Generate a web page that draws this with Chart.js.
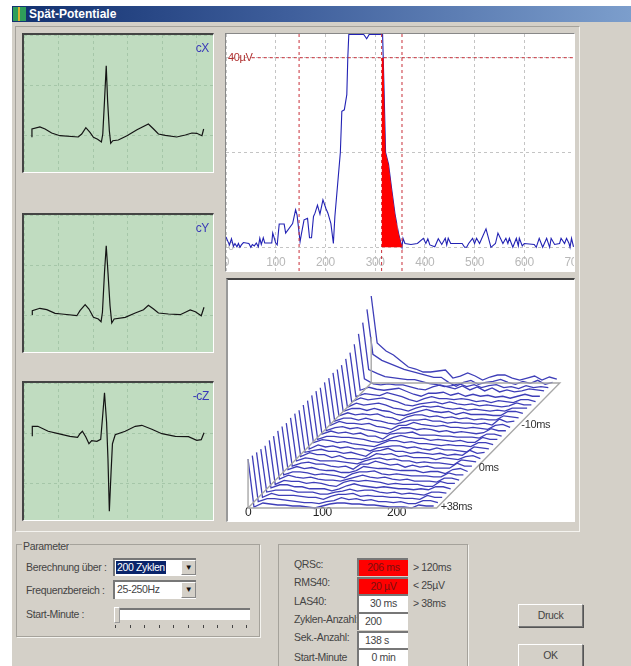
<!DOCTYPE html>
<html>
<head>
<meta charset="utf-8">
<title>Spät-Potentiale</title>
<script src="https://cdn.jsdelivr.net/npm/chart.js@4/dist/chart.umd.min.js"></script>
<style>
html, body { margin: 0; padding: 0; background: #fff; }
body { width: 631px; height: 666px; position: relative; overflow: hidden; font: 10.5px "Liberation Sans", Arial, sans-serif; letter-spacing: -.35px; color: #444; }
div, span, canvas { position: absolute; box-sizing: border-box; }
canvas { display: block; }
#win { left: 12px; top: 22px; width: 619px; height: 644px; background: #d4d0c8; }
#titlebar { left: 12px; top: 6px; width: 619px; height: 16px; background: linear-gradient(90deg, #12306f, #3f5f9c 45%, #7c9ecc); color: #fff; font: bold 12px "Liberation Sans", Arial, sans-serif; letter-spacing: 0; line-height: 16px; padding-left: 17px; }
#icon { left: 1px; top: 1px; width: 13px; height: 14px; background: linear-gradient(90deg, #2f9e5a 40%, #d8b030 40%, #d8b030 55%, #2f9e5a 55%); }
#panel { left: 15px; top: 26px; width: 565px; height: 506px; border: 1px solid #a5a29b; border-right-color: #f4f3ef; border-bottom-color: #f4f3ef; }
.plot { border-top: 2px solid #444; border-left: 2px solid #444; border-right: 1px solid #fff; border-bottom: 1px solid #fff; }
.paper { background: #c0dcc0; }
.sheet { background: #fff; }
.plot canvas { left: 0; top: 0; }
.group { border: 1px solid #a5a29b; box-shadow: 1px 1px 0 #f4f3ef; }
.txt { white-space: nowrap; line-height: 14px; }
.legend { background: #d4d0c8; padding: 0 1px; }
.field { background: #fff; border-top: 2px solid #777; border-left: 2px solid #777; line-height: 14px; white-space: nowrap; padding-left: 2px; }
.red { background: #ff0000; color: #7a1010; text-align: center; padding: 0; }
.mid { text-align: center; padding: 0; }
.arrow { width: 15px; background: #d4d0c8; border: 1px solid #888; border-top-color: #fff; border-left-color: #fff; color: #111; font-size: 8px; line-height: 14px; text-align: center; }
.sel { background: #0a246a; color: #fff; left: 1px; top: 1px; height: 13px; line-height: 13px; padding: 0 1px; }
.btn { background: #d4d0c8; border: 1px solid #777; border-top-color: #fff; border-left-color: #fff; box-shadow: 1px 1px 0 #555; text-align: center; line-height: 21px; }
.tick { width: 1px; height: 3px; background: #444; top: 625px; }
</style>
</head>
<body>
<div id="win"></div>
<div id="titlebar"><div id="icon"></div>Spät-Potentiale</div>
<div id="panel"></div>

<div class="plot paper" style="left:22px;top:33px;width:192px;height:140px"><canvas id="ecgX" width="189" height="137"></canvas></div>
<div class="plot paper" style="left:22px;top:213px;width:192px;height:140px"><canvas id="ecgY" width="189" height="137"></canvas></div>
<div class="plot paper" style="left:22px;top:381px;width:192px;height:140px"><canvas id="ecgZ" width="189" height="137"></canvas></div>
<div class="plot sheet" style="left:225px;top:33px;width:350px;height:239px;border-width:1px;border-top-color:#888;border-left-color:#888"><canvas id="rms" width="348" height="237"></canvas></div>
<div class="plot sheet" style="left:226px;top:278px;width:349px;height:244px;border-top-color:#444;border-left-color:#999"><canvas id="waterfall" width="346" height="241"></canvas></div>

<div class="group" style="left:16px;top:544px;width:244px;height:93px"></div>
<div class="txt legend" style="left:22px;top:539px">Parameter</div>
<div class="txt" style="left:26px;top:560px">Berechnung über :</div>
<div class="txt" style="left:26px;top:583px">Frequenzbereich :</div>
<div class="txt" style="left:26px;top:607px">Start-Minute :</div>
<div class="field" style="left:113px;top:558px;width:83px;height:18px;padding:0"><span class="sel">200 Zyklen</span></div>
<div class="arrow" style="left:181px;top:560px;height:15px">▼</div>
<div class="field" style="left:113px;top:580px;width:83px;height:19px">25-250Hz</div>
<div class="arrow" style="left:181px;top:582px;height:16px">▼</div>
<div class="field" style="left:118px;top:608px;width:132px;height:12px;padding:0"></div>
<div style="left:114px;top:607px;width:6px;height:16px;background:#d4d0c8;border:1px solid #999;border-top-color:#fff;border-left-color:#fff"></div>
<div id="sliderTicks"></div>

<div class="group" style="left:278px;top:544px;width:190px;height:130px"></div>
<div class="txt" style="left:294px;top:557px">QRSc:</div>
<div class="txt" style="left:294px;top:575px">RMS40:</div>
<div class="txt" style="left:294px;top:594px">LAS40:</div>
<div class="txt" style="left:294px;top:612px">Zyklen-Anzahl:</div>
<div class="txt" style="left:294px;top:630px">Sek.-Anzahl:</div>
<div class="txt" style="left:294px;top:650px">Start-Minute</div>
<div class="field red" style="left:357px;top:558px;width:51px;height:18px">206 ms</div>
<div class="field red" style="left:357px;top:577px;width:51px;height:17px">20 µV</div>
<div class="field mid" style="left:357px;top:594px;width:51px;height:18px">30 ms</div>
<div class="field" style="left:357px;top:612px;width:51px;height:18px;padding-left:6px">200</div>
<div class="field" style="left:357px;top:631px;width:51px;height:17px;padding-left:6px">138 s</div>
<div class="field mid" style="left:357px;top:648px;width:51px;height:18px">0 min</div>
<div class="txt" style="left:413px;top:560px">&gt; 120ms</div>
<div class="txt" style="left:413px;top:578px">&lt; 25µV</div>
<div class="txt" style="left:413px;top:596px">&gt; 38ms</div>
<div class="btn" style="left:518px;top:604px;width:65px;height:23px">Druck</div>
<div class="btn" style="left:518px;top:644px;width:65px;height:23px">OK</div>

<script>
// averaged ECG leads, time in ms, amplitude in plot units
const cxTimes = [23,23,46,61,80,104,157,167,179,191,201,213,224,228,233,238,242,247,251,257,273,298,327,360,375,389,409,442,467,486,500,515,520];
const cxValues = [47.7,56,58,56,52,49.3,48,51,57.3,52.7,47.7,45.7,43,51,84.3,119.3,84,54.3,41.7,44.3,45,49.3,55.3,61,56,51,49.7,48,50,52,51.7,49.3,56];
const cyTimes = [24,24,46,66,90,109,153,162,177,188,201,215,223,227,233,238,243,249,254,261,293,322,346,360,375,389,418,452,467,481,496,513,521];
const cyValues = [50,54.3,56.7,55.3,51.7,51,49.3,54.3,60.3,56,47.7,46,43.3,52.7,92.7,119.3,92.7,59.3,42,46,47.7,52,55.3,59.7,56,52,51,50.3,52.7,55,53.3,49.3,57.7];
const czTimes = [24,24,40,70,99,133,155,162,169,179,188,196,211,222,227,233,239,243,247,252,256,264,293,322,341,370,399,438,476,500,513,521];
const czValues = [96.7,106.7,106.7,101.7,99.3,96.7,95.7,99.3,101.7,96,89.3,92.3,91.7,93.7,114.3,140.3,111,74.3,21.7,61,89.3,98.3,101.7,106.7,107.7,103.7,99.3,96.7,96.3,92.7,93.3,100.3];

// filtered QRS magnitude in µV over ms
const rmsTimes = [0,4,7,11,15,18,22,25,28,31,35,46,50,53,57,61,65,68,71,75,78,92,94,97,100,103,107,117,120,134,140,143,149,152,157,164,168,172,176,179,184,189,195,201,205,211,216,219,230,233,238,243,245,247,277,283,288,315,318,321,327,333,340,347,354,356,360,372,385,397,402,406,410,420,427,434,441,444,447,452,463,475,480,484,488,496,500,504,510,523,533,542,547,557,563,567,570,577,584,588,590,596,600,620,624,630,637,645,651,654,661,671,674,681,685,690,692,695,699];
const rmsValues = [2.2,1.2,.5,1.8,.2,.8,.1,.8,0,.5,1,.8,0,.6,.3,.9,.1,1.9,.6,2,.9,.9,3,2,.9,.5,4.9,4.9,3,5,7.9,6.8,1.2,3,5.8,6.1,2,2,6.5,7.2,8.9,7,10,8.2,7.2,5,.8,6.5,20,28.7,29,32.2,40,44.9,44.9,44,44.9,44.9,33,20,17.5,12.5,7,3,0,1.9,.8,.6,.8,1.9,.8,1.8,.5,.1,1.8,.6,1.9,.5,1.9,.8,.8,.8,0,0,.8,1.9,.8,1.9,.8,3.9,0,.8,3,.8,1.9,.8,1.9,0,1.9,.3,1.9,.3,.8,.6,0,1.9,0,1.9,0,1.9,.6,.8,1.9,.8,1.9,.8,0,1.9,.1];
const lasTimes = [313,317,318,321,327,333,340,347,354];
const lasValues = [40,40,33,20,17.5,12.5,7,3,0];
const seamTimes = [327,344];
const seamTops = [17,5];
const rmsTickLabels = [0,100,200,300,400,500,600,700];
const markerTimes = [147,313,354];
const thresholdLevel = 40;

// waterfall: one row per averaging step, front (+38ms) first, height over the column ms
const rowColumns = [0,8,20,30,40,50,60,70,80,90,100,110,120,130,140,150,160,170,180,190,200,210,220,230,240,250];
const row00 = [49,1,5,4,3,3,2,2,1,0,2,4,5,5,4,4,3,3,2,1,1,1,0,3,2,2];
const row01 = [48,2,5,5,4,3,2,1,1,0,2,3,6,4,5,3,4,2,2,1,2,0,0,3,3,1];
const row02 = [47,2,6,4,4,4,3,2,2,0,3,5,5,6,3,4,3,3,2,2,1,1,0,4,2,2];
const row03 = [46,3,5,5,5,3,3,3,1,1,3,4,6,4,5,5,3,2,3,1,2,1,0,3,3,2];
const row04 = [45,3,6,6,4,4,2,2,2,0,2,5,7,5,4,3,4,3,2,2,1,2,1,4,4,2];
const row05 = [46,2,6,5,5,3,4,3,1,0,4,6,5,6,5,4,2,3,2,2,2,0,0,5,3,3];
const row06 = [46,3,7,5,4,5,3,2,2,1,3,5,7,5,4,5,3,2,3,1,1,1,0,4,4,2];
const row07 = [47,3,6,6,5,3,4,3,2,0,4,6,6,7,4,3,4,3,2,2,2,1,1,5,3,3];
const row08 = [47,4,7,5,6,4,3,3,1,1,3,7,6,5,5,4,3,3,3,1,2,2,0,4,5,2];
const row09 = [46,3,6,7,5,5,3,2,3,0,5,5,8,6,4,5,2,4,2,3,1,1,1,6,3,3];
const row10 = [47,4,7,6,4,4,4,3,2,1,4,6,7,5,6,4,4,2,3,2,2,1,0,5,4,3];
const row11 = [47,4,8,6,6,3,5,2,2,1,3,7,6,7,4,5,3,3,3,1,3,2,1,4,5,2];
const row12 = [46,4,6,7,5,5,3,4,2,0,5,6,8,5,5,3,4,3,2,3,1,2,1,6,3,4];
const row13 = [47,3,7,5,6,4,5,3,3,1,4,5,6,6,4,5,3,2,4,2,2,1,0,5,4,3];
const row14 = [47,5,8,7,5,6,4,3,2,1,4,7,7,5,6,4,4,3,2,3,2,2,1,5,5,3];
const row15 = [48,4,7,7,6,6,5,4,2,1,3,6,8,6,5,5,3,4,3,2,3,1,1,6,4,4];
const row16 = [48,5,8,6,7,5,6,3,3,0,5,6,6,7,4,4,4,3,3,2,2,2,1,5,5,3];
const row17 = [47,4,7,8,6,7,5,4,2,1,4,7,7,5,6,5,3,4,2,3,2,1,2,6,4,4];
const row18 = [48,5,9,7,7,6,7,4,3,1,5,5,8,6,5,4,5,3,3,2,3,2,1,5,6,3];
const row19 = [48,5,8,8,6,8,6,5,3,2,4,6,6,7,5,5,3,4,3,3,2,3,1,7,4,5];
const row20 = [49,6,9,7,8,7,8,5,4,1,5,7,7,5,6,4,5,3,4,2,3,2,2,6,5,4];
const row21 = [48,6,9,9,7,9,7,6,3,2,4,6,8,6,5,6,3,5,3,3,3,2,2,6,6,4];
const row22 = [48,6,10,8,9,10,8,5,4,2,5,7,6,7,5,4,5,3,4,3,2,3,2,5,5,5];
const row23 = [50,7,11,9,10,11,9,7,4,3,5,6,7,5,7,5,4,5,3,4,3,2,3,6,4,4];
const row24 = [52,8,11,10,9,12,10,8,5,3,6,8,6,6,5,6,5,3,4,2,4,3,2,5,5,3];
const row25 = [56,10,13,11,10,11,12,9,6,4,7,7,8,5,7,4,6,4,5,3,4,2,4,6,4,4];
const row26 = [62,17,12,11,12,11,11,9,7,6,9,11,9,7,10,6,9,5,8,4,6,4,5,7,6,5];
const row27 = [69,22,18,15,14,13,12,12,10,8,7,5,6,8,5,7,4,6,7,4,5,3,6,4,5,4];
const row28 = [78,33,27,24,21,18,16,14,12,10,10,5,1,5,7,3,5,6,8,5,3,6,4,7,3,5];
const row29 = [87,40,32,28,22,16,14,11,11,12,13,5,7,10,7,3,6,8,8,5,3,5,7,3,6,4];
const waterfallRows = [row00,row01,row02,row03,row04,row05,row06,row07,row08,row09,row10,row11,row12,row13,row14,row15,row16,row17,row18,row19,row20,row21,row22,row23,row24,row25,row26,row27,row28,row29];
const waterfallTicks = [0,100,200];
const rowLabels = [[0,'+38ms'],[9,'0ms'],[19,'-10ms']];
const axisEnd = 254;

const rowShiftX = 5.72;
const rowShiftY = 4.31;

const zipXY = (xs, ys) => xs.map((x, i) => ({ x: x, y: ys[i] }));

// axes drawn inside the plot must not take room from it
const noRoom = s => {
    s.paddingLeft = s.paddingRight = s.paddingTop = s.paddingBottom = 0;
    if (s.isHorizontal()) s.height = 0; else s.width = 0;
};

const baseOptions = {
    responsive: false,
    animation: false,
    events: [],
    layout: { padding: 0 },
    elements: { point: { radius: 0 }, line: { tension: 0, borderWidth: 1 } },
    plugins: { legend: { display: false }, tooltip: { enabled: false } }
};

// small blue lead name in the upper right corner
const cornerName = {
    id: 'cornerName',
    afterDraw(chart, args, opts) {
        const c = chart.ctx, a = chart.chartArea;
        c.save();
        c.font = '12px "Liberation Sans"';
        c.fillStyle = '#3a3ab8';
        c.textAlign = 'right';
        c.fillText(opts.text, a.right - 4, a.top + 17);
        c.restore();
    }
};

function makeEcg(canvasId, name, times, values) {
    return new Chart(document.getElementById(canvasId), {
        type: 'line',
        data: { datasets: [{ data: zipXY(times, values), borderColor: '#141414', borderWidth: 1.2 }] },
        plugins: [cornerName],
        options: {
            ...baseOptions,
            plugins: { ...baseOptions.plugins, cornerName: { text: name } },
            scales: {
                x: { type: 'linear', min: 0, max: 547, afterFit: noRoom,
                    ticks: { display: false, stepSize: 100, includeBounds: false },
                    grid: { color: '#a5c6a8', drawTicks: false }, border: { display: false, dash: [3, 3] } },
                y: { min: 13, max: 150, afterFit: noRoom,
                    ticks: { display: false, stepSize: 50, includeBounds: false },
                    grid: { color: '#a5c6a8', drawTicks: false }, border: { display: false, dash: [3, 3] } }
            }
        }
    });
}

makeEcg('ecgX', 'cX', cxTimes, cxValues);
makeEcg('ecgY', 'cY', cyTimes, cyValues);
makeEcg('ecgZ', '-cZ', czTimes, czValues);

const redDash = { borderColor: '#c8303a', borderWidth: 1, borderDash: [3, 3] };
new Chart(document.getElementById('rms'), {
    type: 'line',
    data: {
        datasets: [
            { data: zipXY(lasTimes, lasValues), borderWidth: 0, backgroundColor: '#ff0000', fill: 'origin' },
            ...seamTimes.map((t, i) => ({ data: [{ x: t, y: 0 }, { x: t, y: seamTops[i] }], borderColor: '#f4c8c8', borderWidth: 1 })),
            ...markerTimes.map(t => ({ data: [{ x: t, y: -5 }, { x: t, y: 45 }], ...redDash })),
            { data: [{ x: 52, y: thresholdLevel }, { x: 700, y: thresholdLevel }], ...redDash },
            { data: zipXY(rmsTimes, rmsValues), borderColor: '#2222b4', borderWidth: 1.1 }
        ]
    },
    options: {
        ...baseOptions,
        scales: {
            x: { type: 'linear', min: 0, max: 700, afterFit: noRoom,
                afterBuildTicks: s => { s.ticks = rmsTickLabels.map(v => ({ value: v })); },
                ticks: { mirror: true, color: '#b8b8b8', maxRotation: 0, autoSkip: false, padding: 1, font: { size: 12, family: 'Liberation Sans' } },
                grid: { color: '#c4c4c4', drawTicks: false }, border: { display: false, dash: [3, 3] } },
            y: { min: -5, max: 45, afterFit: noRoom,
                afterBuildTicks: s => { s.ticks = [0, 20, thresholdLevel].map(v => ({ value: v })); },
                ticks: { mirror: true, padding: 2, font: { size: 11, family: 'Liberation Sans' },
                    color: c => c.tick.value === thresholdLevel ? '#b03030' : '#b8b8b8',
                    callback: v => v === thresholdLevel ? '40µV' : (v === 0 ? '0' : '') },
                grid: { color: '#c4c4c4', drawTicks: false }, border: { display: false, dash: [3, 3] } }
        }
    }
});

// row time marks along the right edge of the waterfall floor
const rowNames = {
    id: 'rowNames',
    afterDraw(chart) {
        const c = chart.ctx, xs = chart.scales.x, ys = chart.scales.y;
        c.save();
        c.font = '11px "Liberation Sans"';
        c.fillStyle = '#333';
        c.textBaseline = 'middle';
        rowLabels.forEach(([row, text]) => {
            c.fillText(text, xs.getPixelForValue(axisEnd + row * rowShiftX) + 4, ys.getPixelForValue(row * rowShiftY) - 1);
        });
        c.restore();
    }
};

const floorColor = { borderColor: '#a8a8a8', borderWidth: 1.4 };
const backX = (waterfallRows.length - 1) * rowShiftX;
const backY = (waterfallRows.length - 1) * rowShiftY;
new Chart(document.getElementById('waterfall'), {
    type: 'line',
    data: {
        datasets: [
            { data: [{ x: 0, y: 49 }, { x: 0, y: 0 }, { x: axisEnd, y: 0 }, { x: axisEnd + backX, y: backY }, { x: backX, y: backY }, { x: 0, y: 0 }], ...floorColor },
            { data: [{ x: backX, y: backY }, { x: backX, y: backY + 46 }], ...floorColor },
            ...waterfallRows.map((row, r) => ({
                data: row.map((h, i) => ({ x: rowColumns[i] + r * rowShiftX, y: h + r * rowShiftY })),
                borderColor: '#3e3eb8',
                borderWidth: 1.3
            }))
        ]
    },
    plugins: [rowNames],
    options: {
        ...baseOptions,
        scales: {
            x: { type: 'linear', min: -27, max: 439, afterFit: noRoom,
                afterBuildTicks: s => { s.ticks = waterfallTicks.map(v => ({ value: v })); },
                ticks: { mirror: true, color: '#222', maxRotation: 0, autoSkip: false, padding: 1, font: { size: 12, family: 'Liberation Sans' } },
                grid: { display: false, drawTicks: false }, border: { display: false } },
            y: { min: -13, max: 228, afterFit: noRoom, ticks: { display: false }, grid: { display: false }, border: { display: false } }
        }
    }
});

// slider tick marks
const tickBox = document.getElementById('sliderTicks');
for (let i = 0; i < 10; i++) {
    const t = document.createElement('div');
    t.className = 'tick';
    t.style.left = (115 + i * 14.6) + 'px';
    tickBox.appendChild(t);
}
</script>
</body>
</html>
